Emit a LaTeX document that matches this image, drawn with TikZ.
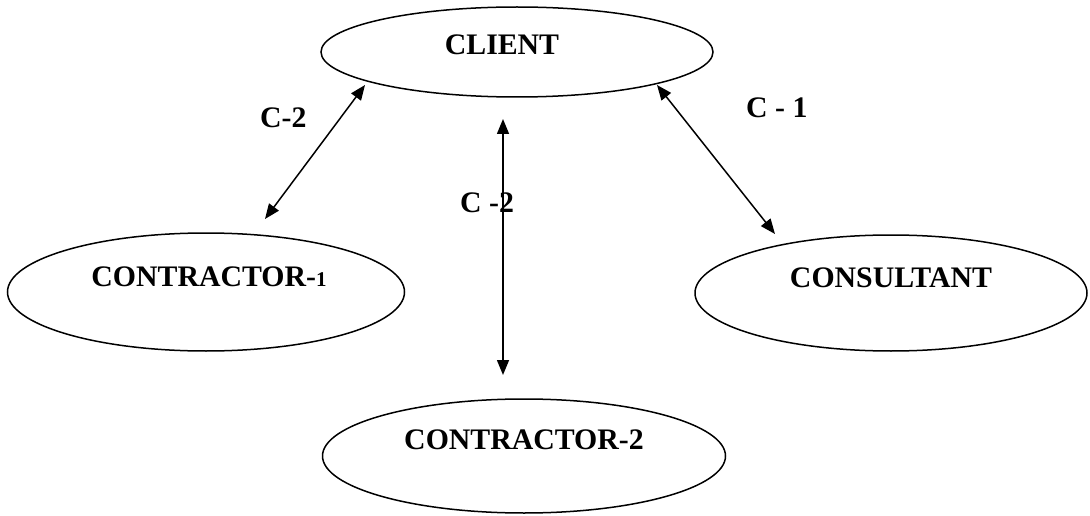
\documentclass[tikz,border=0pt]{standalone}
\usepackage{fontspec}
\setmainfont{Liberation Serif}
\usetikzlibrary{shapes.geometric,arrows.meta}
\begin{document}
\begin{tikzpicture}[x=1pt,y=-1pt,
  ell/.style={draw,ellipse,line width=1.5pt,inner sep=0pt,
    font=\fontsize{29.8}{30}\selectfont\bfseries},
  lbl/.style={inner sep=0pt,anchor=base west,
    font=\fontsize{29.8}{30}\selectfont\bfseries},
  arr/.style={line width=1.5pt,{Triangle[length=15pt,width=12pt]}-{Triangle[length=15pt,width=12pt]}}]
\useasboundingbox (0,0) rectangle (1090,516);
% entities
\node[ell,minimum width=392pt,minimum height=90pt,text depth=14pt] (client) at (517,52) {CLIENT\hspace*{30pt}};
\node[ell,minimum width=397pt,minimum height=118pt,text depth=30pt] (con1) at (206,292) {CONTRACTOR-{\fontsize{21}{21}\selectfont 1}\hspace*{-6pt}};
\node[ell,minimum width=392pt,minimum height=116pt,text depth=30pt] (cons) at (891,293) {CONSULTANT};
\node[ell,minimum width=403pt,minimum height=114pt,text depth=32pt] (con2) at (524,456) {CONTRACTOR-2};
% connector end points
\coordinate (a1) at (265,219);
\coordinate (a2) at (365,85);
\coordinate (b1) at (657,85);
\coordinate (b2) at (775,234);
\coordinate (v1) at (503,119);
\coordinate (v2) at (503,375);
% connectors
\draw[arr] (a1) -- (a2);
\draw[arr] (b1) -- (b2);
\draw[arr] (v1) -- (v2);
% labels
\node[lbl] (l1) at (260,128) {C-2};
\node[lbl] (l2) at (746,118) {C - 1};
\node[lbl] (l3) at (460,212) {C -2};
\end{tikzpicture}
\end{document}
